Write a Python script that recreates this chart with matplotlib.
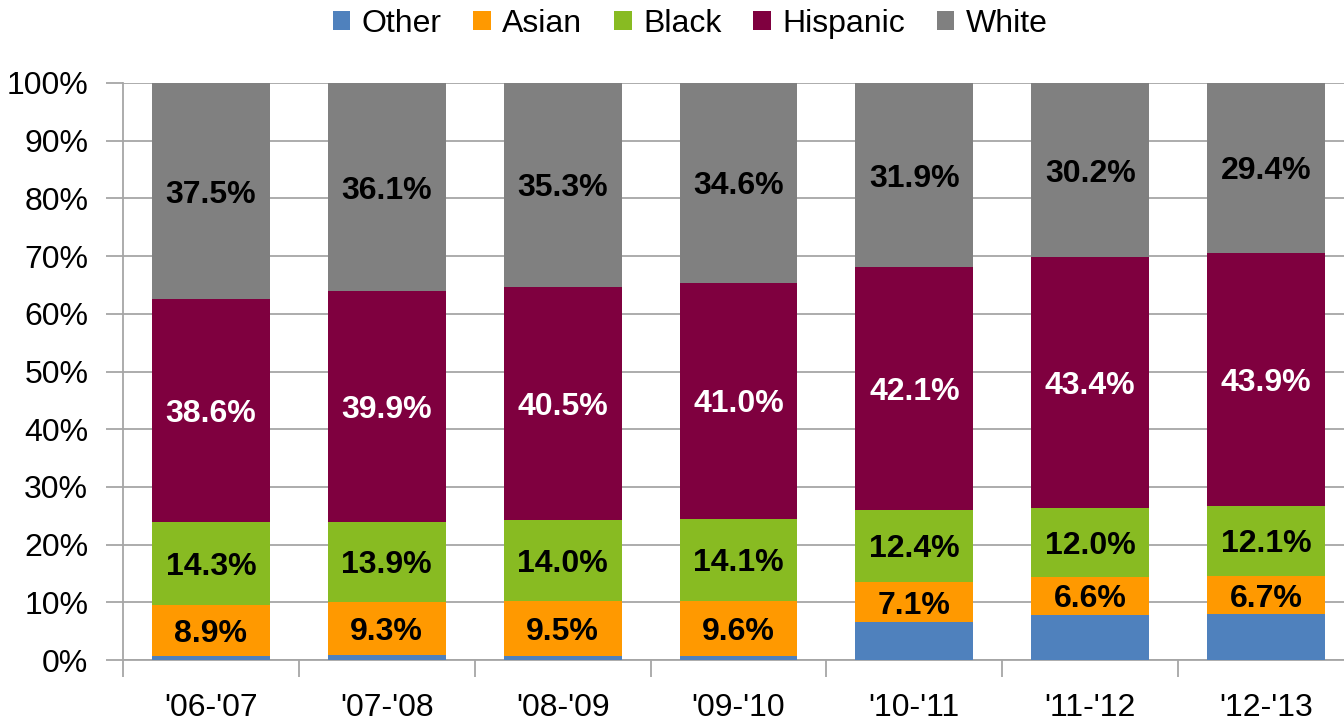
import matplotlib
matplotlib.use("Agg")
import matplotlib.pyplot as plt
from matplotlib.ticker import MultipleLocator, FuncFormatter
import numpy as np

plt.rcParams['font.family'] = ['Liberation Sans', 'DejaVu Sans']

years = ["'06-'07", "'07-'08", "'08-'09", "'09-'10", "'10-'11", "'11-'12", "'12-'13"]
other = [0.7, 0.8, 0.7, 0.7, 6.5, 7.8, 7.9]
asian = [8.9, 9.3, 9.5, 9.6, 7.1, 6.6, 6.7]
black = [14.3, 13.9, 14.0, 14.1, 12.4, 12.0, 12.1]
hispanic = [38.6, 39.9, 40.5, 41.0, 42.1, 43.4, 43.9]
white = [37.5, 36.1, 35.3, 34.6, 31.9, 30.2, 29.4]

series = [
    ("Other", other, "#4f81bd", None),
    ("Asian", asian, "#ff9900", "black"),
    ("Black", black, "#88bb22", "black"),
    ("Hispanic", hispanic, "#7f003f", "white"),
    ("White", white, "#808080", "black"),
]

fig = plt.figure(figsize=(13.44, 7.24), dpi=100)
W, H = 1344, 724
ax = fig.add_axes([123 / W, 1 - 660 / H, (1354 - 123) / W, (660 - 83) / H])

x = np.arange(len(years))
bottom = np.zeros(len(years))
handles = []
for name, vals, color, tcolor in series:
    vals = np.array(vals, dtype=float)
    bars = ax.bar(x, vals, width=0.67, bottom=bottom, color=color, label=name, zorder=3)
    handles.append(bars)
    if tcolor is not None:
        for xi, b, v in zip(x, bottom, vals):
            ax.text(xi, b + v / 2, f"{v:.1f}%", ha="center", va="center_baseline",
                    color=tcolor, fontsize=23, fontweight="bold", zorder=4)
    bottom += vals

ax.set_xlim(-0.5, len(years) - 0.5)
ax.set_ylim(0, 100)
ax.yaxis.set_major_locator(MultipleLocator(10))
ax.yaxis.set_major_formatter(FuncFormatter(lambda v, p: f"{v:.0f}%"))
ax.grid(axis="y", color="#a6a6a6", linewidth=1.3, zorder=0)
ax.set_axisbelow(True)

ax.set_xticks(x)
ax.set_xticklabels(years)
ax.set_xticks(np.arange(len(years) + 1) - 0.5, minor=True)
ax.tick_params(axis="x", which="major", length=0, pad=24, labelsize=23)
ax.tick_params(axis="x", which="minor", length=12, width=1.3, color="#a6a6a6", direction="out")
ax.tick_params(axis="y", length=12, width=1.3, color="#a6a6a6", pad=13, labelsize=23)

for side in ("top", "right"):
    ax.spines[side].set_visible(False)
for side in ("left", "bottom"):
    ax.spines[side].set_color("#a6a6a6")
    ax.spines[side].set_linewidth(1.3)

fig.legend(handles=handles, labels=[s[0] for s in series], loc="center",
           bbox_to_anchor=(690 / W, 1 - 24 / H), ncol=5, frameon=False,
           fontsize=23, handlelength=0.55, handleheight=0.55, handletextpad=0.35,
           columnspacing=1.0)

fig.savefig("out.png", dpi=100)
